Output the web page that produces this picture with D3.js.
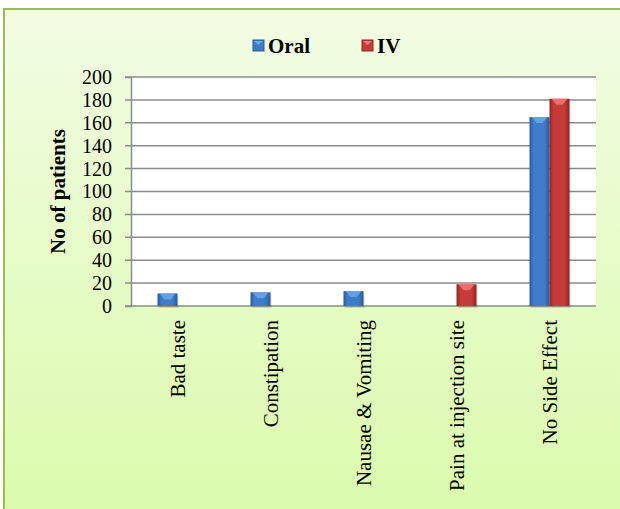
<!DOCTYPE html>
<html>
<head>
<meta charset="utf-8">
<script src="https://cdnjs.cloudflare.com/ajax/libs/d3/7.8.5/d3.min.js"></script>
<style>
  body { margin: 0; }
</style>
</head>
<body>
<div id="chart"></div>
<script>
const categories = ["Bad taste", "Constipation", "Nausae & Vomiting", "Pain at injection site", "No Side Effect"];
const seriesNames = ["Oral", "IV"];
const oralValues = [11, 12, 13, 0, 165];
const ivValues = [0, 0, 0, 19, 181];
const yTicks = [0, 20, 40, 60, 80, 100, 120, 140, 160, 180, 200];

const W = 620, H = 509;
const plot = { left: 131, top: 77, right: 596, bottom: 306 };
const FONT = "'Liberation Serif', 'Times New Roman', serif";

const svg = d3.select("#chart").append("svg")
  .attr("width", W).attr("height", H)
  .style("font-family", FONT);

const defs = svg.append("defs");
const bg = defs.append("linearGradient").attr("id", "bg")
  .attr("x1", 0).attr("y1", 0).attr("x2", 0).attr("y2", 1);
bg.append("stop").attr("offset", "0%").attr("stop-color", "#f2fce3");
bg.append("stop").attr("offset", "100%").attr("stop-color", "#dafbab");

const colors = {
  Oral: { dark: "#2a5b9a", mid: "#3d7cc9", light: "#6fa6e6" },
  IV: { dark: "#8f2523", mid: "#c53b38", light: "#ee7a78" }
};
seriesNames.forEach(s => {
  const g = defs.append("linearGradient").attr("id", "g" + s)
    .attr("x1", 0).attr("y1", 0).attr("x2", 1).attr("y2", 0);
  g.append("stop").attr("offset", "0%").attr("stop-color", colors[s].dark);
  g.append("stop").attr("offset", "20%").attr("stop-color", colors[s].mid);
  g.append("stop").attr("offset", "75%").attr("stop-color", colors[s].mid);
  g.append("stop").attr("offset", "100%").attr("stop-color", colors[s].dark);
});

// chart background + border
svg.append("rect").attr("x", 4).attr("y", 9).attr("width", W + 10).attr("height", H + 10)
  .attr("fill", "url(#bg)").attr("stroke", "#9bbb59").attr("stroke-width", 2);

// plot area
svg.append("rect")
  .attr("x", plot.left).attr("y", plot.top)
  .attr("width", plot.right - plot.left).attr("height", plot.bottom - plot.top)
  .attr("fill", "#fff");

const y = d3.scaleLinear().domain([0, 200]).range([plot.bottom, plot.top]);
const x0 = d3.scaleBand().domain(categories).range([plot.left, plot.right]);
const barW = 20;
const x1 = d3.scaleBand().domain(seriesNames).range([0, barW * 2]);

// gridlines
svg.append("g").selectAll("line").data(yTicks).enter().append("line")
  .attr("x1", plot.left - 6).attr("x2", plot.right)
  .attr("y1", d => y(d)).attr("y2", d => y(d))
  .attr("stroke", "#8c8c8c").attr("stroke-width", 1.5);

// y axis
const yAxis = svg.append("g").attr("transform", `translate(${plot.left},0)`)
  .call(d3.axisLeft(y).tickValues(yTicks).tickSize(6).tickPadding(13));
yAxis.attr("font-family", null).attr("font-size", null);
yAxis.select(".domain").attr("stroke", "#8c8c8c").attr("stroke-width", 1.5);
yAxis.selectAll(".tick line").remove();
yAxis.selectAll("text")
  .style("font-family", FONT).style("font-size", "20px").attr("fill", "#000");

// x axis
const xAxis = svg.append("g").attr("transform", `translate(0,${plot.bottom})`)
  .call(d3.axisBottom(x0).tickSize(0).tickPadding(0));
xAxis.attr("font-family", null).attr("font-size", null);
xAxis.select(".domain").remove();
xAxis.selectAll("text")
  .style("font-family", FONT)
  .style("font-size", "21px")
  .attr("fill", "#000")
  .attr("text-anchor", "end")
  .attr("dy", null)
  .attr("y", 0)
  .attr("transform", "translate(7,14) rotate(-90)");

// bars
const rows = categories.map((c, i) => ({ cat: c, Oral: oralValues[i], IV: ivValues[i] }));
const groups = svg.append("g").selectAll("g").data(rows).enter().append("g")
  .attr("transform", d => `translate(${x0(d.cat) + x0.bandwidth() / 2 - barW},0)`);

const bars = groups.selectAll("g").data(d => seriesNames.map(s => ({ s, v: d[s] })).filter(e => e.v > 0))
  .enter().append("g");
bars.append("rect")
  .attr("x", d => x1(d.s) + 1).attr("y", d => y(d.v) + 2)
  .attr("width", barW).attr("height", d => y(0) - y(d.v))
  .attr("fill", "#000").attr("opacity", 0.12);
bars.append("rect")
  .attr("x", d => x1(d.s)).attr("y", d => y(d.v))
  .attr("width", barW).attr("height", d => y(0) - y(d.v))
  .attr("fill", d => `url(#g${d.s})`);
bars.append("path")
  .attr("d", d => {
    const x = x1(d.s), t = y(d.v);
    return `M${x + 2},${t} L${x + barW - 2},${t} L${x + barW / 2 + 3},${t + 6} L${x + barW / 2 - 3},${t + 6} Z`;
  })
  .attr("fill", d => colors[d.s].light).attr("opacity", 0.85);

// y title
svg.append("text")
  .attr("transform", `translate(65,${(plot.top + plot.bottom) / 2}) rotate(-90)`)
  .attr("text-anchor", "middle")
  .style("font-size", "21px").style("font-weight", "bold")
  .text("No of patients");

// legend
const legendX = [253, 362];
const leg = svg.append("g").selectAll("g").data(seriesNames).enter().append("g")
  .attr("transform", (d, i) => `translate(${legendX[i]},40)`);
leg.append("rect").attr("width", 11).attr("height", 11)
  .attr("fill", d => colors[d].mid).attr("stroke", d => colors[d].dark).attr("stroke-width", 1);
leg.append("path").attr("d", "M1,1 L10,1 L5.5,5 Z").attr("fill", d => colors[d].light);
leg.append("text").attr("x", 15).attr("y", 12.5)
  .style("font-size", "21px").style("font-weight", "bold")
  .text(d => d);
</script>
</body>
</html>
